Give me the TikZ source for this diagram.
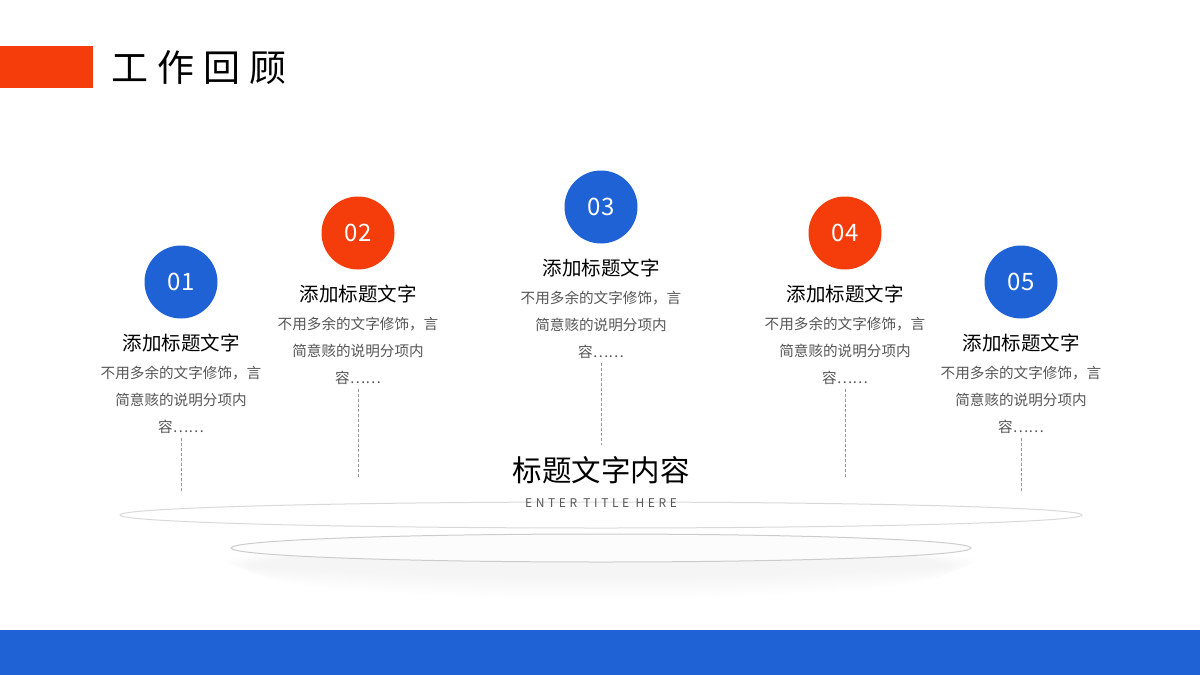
\documentclass[tikz,border=0pt]{standalone}
\usepackage{fontspec}
\setmainfont{Noto Sans CJK SC}
\definecolor{myblue}{HTML}{1F62D6}
\definecolor{myorange}{HTML}{F53D0B}
\definecolor{desc}{HTML}{555555}
\tikzset{
 num/.style={circle,minimum size=73pt,inner sep=0pt,text=white,font=\fontsize{24}{24}\selectfont},
 ttl/.style={font=\fontsize{19.5}{19.5}\selectfont,text=black},
 dsc/.style={font=\fontsize{14.6}{27}\selectfont,text=desc,align=center},
 vline/.style={draw=gray!80,dashed,dash pattern=on 3pt off 2pt,line width=0.6pt}
}
\begin{document}
\begin{tikzpicture}[x=1pt,y=-1pt]
\useasboundingbox (0,0) rectangle (1200,675);
\fill[myblue] (0,630) rectangle (1200,675);
\fill[myorange] (0,46) rectangle (93,88);
\node[anchor=west,font=\fontsize{37}{37}\selectfont] (head) at (108,68) {工\hspace{9pt}作\hspace{9pt}回\hspace{9pt}顾};
% platform
\foreach \i in {1,...,10}{\fill[black,opacity=0.0025] (601,560+\i) ellipse ({380-\i*3} and {14+\i*1.5});}
\draw[gray!30,line width=1pt,fill=white] (601,515) ellipse (481 and 13);
\draw[gray!40,line width=1pt,fill=gray!2] (601,548) ellipse (370 and 14);
\node[font=\fontsize{29.5}{29.5}\selectfont] (mt) at (601,470) {标题文字内容};
\node[font=\fontsize{12}{12}\selectfont\addfontfeatures{LetterSpace=30},text=desc] (st) at (601,503) {ENTER TITLE HERE};
\foreach \n/\x/\y/\c/\ye in {01/181/282/myblue/492,02/358/233/myorange/477,03/601/207/myblue/445,04/845/233/myorange/477,05/1021/282/myblue/492}{
 \node[num,fill=\c] (c\n) at (\x,\y) {\n};
 \node[ttl] (t\n) at (\x,\y+61) {添加标题文字};
 \node[dsc,anchor=north] (d\n) at (\x,\y+81) {不用多余的文字修饰，言\\简意赅的说明分项内\\容……};
 \coordinate (e\n) at (\x,\ye);
 \draw[vline] (d\n.south) -- (e\n);
}
\end{tikzpicture}
\end{document}
